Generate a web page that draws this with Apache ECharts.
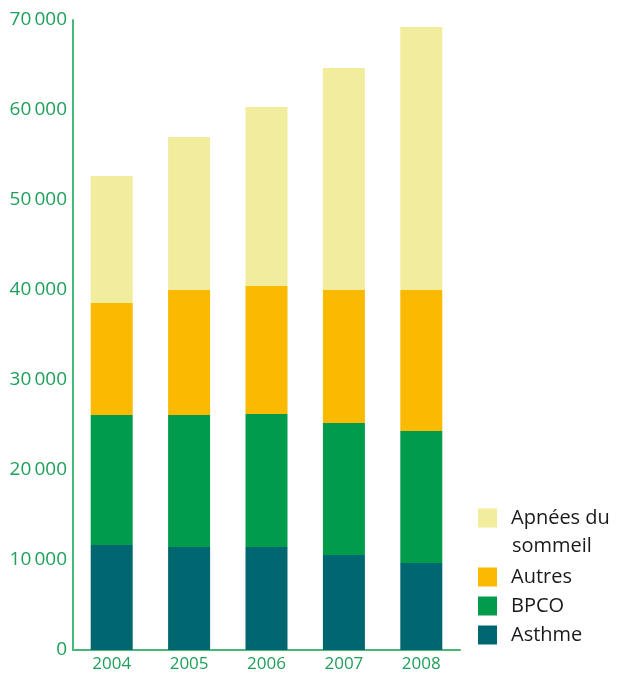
<!DOCTYPE html>
<html>
<head>
<meta charset="utf-8">
<script src="https://cdn.jsdelivr.net/npm/echarts@6/dist/echarts.min.js"></script>
<style>html,body{margin:0;padding:0;background:#fff}#c{width:622px;height:675px}</style>
</head>
<body>
<div id="c"></div>
<script>
var categories = ['2004', '2005', '2006', '2007', '2008'];
var asthme = [11670, 11440, 11440, 10560, 9670];
var bpco = [14440, 14670, 14780, 14660, 14660];
var autres = [12450, 13890, 14220, 14780, 15670];
var apnees = [14110, 17000, 19890, 24670, 29220];
var yTicks = [0, 10000, 20000, 30000, 40000, 50000, 60000, 70000];

var green = '#1fa05a';
var axisGreen = '#48b878';
var font = 'Open Sans, sans-serif';

var chart = echarts.init(document.getElementById('c'));
chart.setOption({
  animation: false,
  grid: { left: 73, right: 162, top: 20, bottom: 25, containLabel: false },
  xAxis: {
    type: 'category',
    data: categories,
    axisLine: { lineStyle: { color: axisGreen, width: 2 } },
    axisTick: { show: false },
    axisLabel: { color: green, fontSize: 17, fontFamily: font, margin: 6 }
  },
  yAxis: {
    type: 'value',
    min: 0, max: 70000, interval: 10000,
    axisLine: { show: true, lineStyle: { color: axisGreen, width: 2 } },
    axisTick: { show: false },
    splitLine: { show: false },
    axisLabel: {
      color: green, fontSize: 19, fontFamily: font, margin: 6,
      formatter: function (v) {
        if (yTicks.indexOf(v) < 0) return '';
        if (v === 0) return '0';
        var s = String(v);
        return s.slice(0, s.length - 3) + '\u2009' + s.slice(-3);
      }
    }
  },
  legend: [
    {
      data: ['Apnées du sommeil'],
      orient: 'vertical', left: 473, top: 503,
      itemWidth: 19, itemHeight: 19, itemGap: 9,
      icon: 'rect',
      formatter: function () { return 'Apnées du'; },
      textStyle: { fontSize: 20, fontFamily: font, color: '#1a1a1a', padding: [0, 0, 0, 9] }
    },
    {
      data: ['Autres', 'BPCO', 'Asthme'],
      orient: 'vertical', left: 473, top: 562,
      itemWidth: 19, itemHeight: 19, itemGap: 9,
      icon: 'rect',
      textStyle: { fontSize: 20, fontFamily: font, color: '#1a1a1a', padding: [0, 0, 0, 9] }
    }
  ],
  graphic: [
    { type: 'text', left: 512, top: 536, style: { text: 'sommeil', fontSize: 20, fontFamily: font, fill: '#1a1a1a' } }
  ],
  series: [
    { name: 'Asthme', type: 'bar', stack: 't', data: asthme, barWidth: 42, itemStyle: { color: '#006670' } },
    { name: 'BPCO', type: 'bar', stack: 't', data: bpco, itemStyle: { color: '#009c4b' } },
    { name: 'Autres', type: 'bar', stack: 't', data: autres, itemStyle: { color: '#fbb900' } },
    { name: 'Apnées du sommeil', type: 'bar', stack: 't', data: apnees, itemStyle: { color: '#f2ed9c' } }
  ]
});
</script>
</body>
</html>
